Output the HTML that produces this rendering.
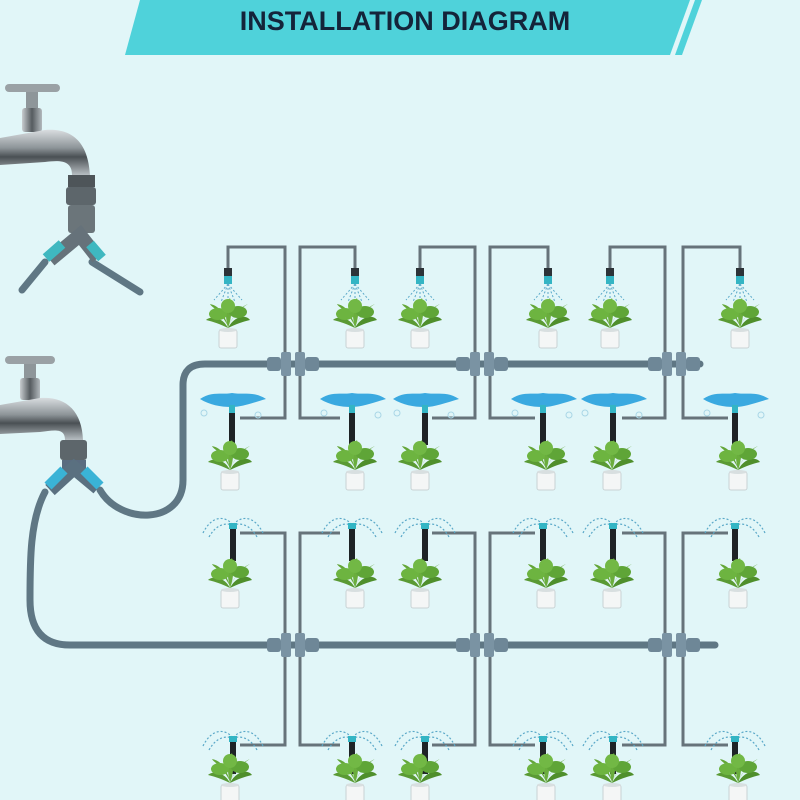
<!DOCTYPE html>
<html><head><style>
body{margin:0;background:#e1f6f8;}
svg{display:block}
</style></head><body>
<svg width="800" height="800" viewBox="0 0 800 800" xmlns="http://www.w3.org/2000/svg">
<defs>
<linearGradient id="chrome" x1="0" y1="0" x2="0" y2="1">
<stop offset="0" stop-color="#d9dde0"/><stop offset="0.4" stop-color="#8d9498"/><stop offset="0.6" stop-color="#4a5054"/><stop offset="1" stop-color="#b7bec2"/>
</linearGradient>
<linearGradient id="chromev" x1="0" y1="0" x2="1" y2="0">
<stop offset="0" stop-color="#c8cdd0"/><stop offset="0.5" stop-color="#555b5f"/><stop offset="1" stop-color="#b2b9bd"/>
</linearGradient>
<g id="plant">
<path d="M0,-2 C-6,-14 -18,-14 -22,-10 C-14,-8 -8,-6 0,-2Z" fill="#5a9a34"/>
<path d="M0,-2 C6,-14 18,-16 22,-10 C14,-8 8,-6 0,-2Z" fill="#4f8f2c"/>
<path d="M0,-2 C-4,-18 -2,-28 2,-32 C4,-24 4,-12 0,-2Z" fill="#6aad3d"/>
<path d="M0,-4 C-10,-22 -16,-22 -18,-26 C-8,-24 -4,-16 0,-4Z" fill="#64a638"/>
<path d="M0,-4 C10,-22 16,-24 20,-26 C10,-20 6,-14 0,-4Z" fill="#5ea236"/>
<ellipse cx="-10" cy="-16" rx="9" ry="6" fill="#6db440"/>
<ellipse cx="10" cy="-18" rx="9" ry="6" fill="#5fa537"/>
<ellipse cx="0" cy="-24" rx="7" ry="7" fill="#72b845"/>
<rect x="-9" y="0" width="18" height="18" rx="2" fill="#f4f6f6" stroke="#c9d2d4"/>
<ellipse cx="0" cy="0" rx="9" ry="2" fill="#d8dfe0"/>
</g>
<g id="spray">
<rect x="-4" y="-12" width="8" height="8" fill="#2c3338"/>
<rect x="-4" y="-4" width="8" height="8" fill="#33b5c4"/>
<path d="M0,4 L-14,20 M0,4 L-7,22 M0,4 L0,22 M0,4 L7,22 M0,4 L14,20" stroke="#5aa8c8" stroke-width="1" stroke-dasharray="2 2" fill="none"/>
</g>
<g id="splash">
<path d="M-32,-6 C-20,-14 -10,-10 0,-12 C12,-10 22,-14 34,-6 C20,-2 10,2 0,2 C-12,2 -22,0 -32,-6Z" fill="#3aa9e0"/>
<circle cx="-28" cy="8" r="3" fill="none" stroke="#a9d6e6"/>
<circle cx="26" cy="10" r="3" fill="none" stroke="#a9d6e6"/>
<rect x="-3" y="0" width="6" height="8" fill="#33b5c4"/>
<rect x="-3" y="8" width="6" height="32" fill="#1e2326"/>
</g>
<g id="fan">
<path d="M-30,6 C-20,-14 -6,-10 0,-2 M30,6 C20,-14 6,-10 0,-2 M-24,10 C-16,-4 -6,-4 0,-2 M24,10 C16,-4 6,-4 0,-2" stroke="#5aa8c8" stroke-width="1.2" stroke-dasharray="2 2" fill="none"/>
<rect x="-4" y="-4" width="8" height="6" fill="#33b5c4"/>
<rect x="-3" y="2" width="6" height="32" fill="#1e2326"/>
</g>
<g id="conn">
<rect x="-26" y="-7" width="14" height="14" rx="3" fill="#6e8797"/>
<rect x="-12" y="-12" width="10" height="24" rx="2" fill="#7a93a3"/>
<rect x="2" y="-12" width="10" height="24" rx="2" fill="#7a93a3"/>
<rect x="12" y="-7" width="14" height="14" rx="3" fill="#6e8797"/>
</g>
</defs>
<polygon points="140,0 690,0 670,55 125,55" fill="#4fd2da"/>
<polygon points="695,0 702,0 682,55 675,55" fill="#4fd2da"/>
<text x="405" y="30" text-anchor="middle" font-family="Liberation Sans, sans-serif" font-weight="bold" font-size="27" fill="#14243a">INSTALLATION DIAGRAM</text>

<!-- hoses -->
<g fill="none" stroke="#5f7784" stroke-width="7" stroke-linecap="round">
<path d="M45,262 L22,290"/>
<path d="M92,262 L140,292"/>
<path d="M100,490 C120,525 183,525 183,480 L183,385 Q183,364 205,364 L700,364"/>
<path d="M45,492 C30,520 30,560 30,600 Q30,645 70,645 L715,645"/>
</g>
<!-- tap 1 -->
<g>
<rect x="5" y="84" width="55" height="8" rx="4" fill="#9aa1a5"/>
<rect x="26" y="92" width="12" height="18" fill="#8e969a"/>
<rect x="22" y="108" width="20" height="24" rx="3" fill="url(#chromev)"/>
<path d="M0,138 L45,130 C70,128 88,140 90,175 L72,175 C72,160 60,160 45,162 L0,165Z" fill="url(#chrome)"/>
<rect x="68" y="175" width="27" height="12" fill="#4e5559"/>
<rect x="66" y="187" width="30" height="18" rx="3" fill="#5d666b"/>
<rect x="68" y="205" width="27" height="28" rx="3" fill="#6b757a"/>
<path d="M50,260 L80,235 L98,258" stroke="#66727a" stroke-width="14" fill="none"/>
<path d="M46,258 L62,244" stroke="#3fb8c0" stroke-width="10"/>
<path d="M90,244 L102,258" stroke="#3fb8c0" stroke-width="10"/>
</g>
<!-- tap 2 -->
<g>
<rect x="5" y="356" width="50" height="8" rx="4" fill="#9aa1a5"/>
<rect x="24" y="364" width="12" height="16" fill="#8e969a"/>
<rect x="20" y="378" width="20" height="22" rx="3" fill="url(#chromev)"/>
<path d="M0,405 L40,398 C65,396 82,410 83,440 L65,440 C65,428 55,430 40,432 L0,434Z" fill="url(#chrome)"/>
<rect x="60" y="440" width="27" height="20" rx="3" fill="#5d666b"/>
<rect x="62" y="460" width="24" height="14" fill="#5a6c80"/>
<path d="M50,490 L74,468 L98,488" stroke="#5a7080" stroke-width="14" fill="none"/>
<path d="M48,486 L64,470" stroke="#3ab3d6" stroke-width="10"/>
<path d="M84,470 L100,486" stroke="#3ab3d6" stroke-width="10"/>
</g>
<!-- thin loops -->
<g fill="none" stroke="#66737a" stroke-width="3">
<path d="M228,268 V247 H285 V418 H240"/>
<path d="M355,268 V247 H300 V418 H340"/>
<path d="M420,268 V247 H475 V418 H432"/>
<path d="M548,268 V247 H490 V418 H535"/>
<path d="M610,268 V247 H665 V418 H622"/>
<path d="M740,268 V247 H683 V418 H728"/>
<path d="M240,533 H285 V745 H240"/>
<path d="M340,533 H300 V745 H340"/>
<path d="M432,533 H475 V745 H432"/>
<path d="M535,533 H490 V745 H535"/>
<path d="M622,533 H665 V745 H622"/>
<path d="M728,533 H683 V745 H728"/>
</g>
<use href="#conn" x="293" y="364"/><use href="#conn" x="482" y="364"/><use href="#conn" x="674" y="364"/>
<use href="#conn" x="293" y="645"/><use href="#conn" x="482" y="645"/><use href="#conn" x="674" y="645"/>
<g>
<use href="#spray" x="228" y="280"/><use href="#spray" x="355" y="280"/><use href="#spray" x="420" y="280"/>
<use href="#spray" x="548" y="280"/><use href="#spray" x="610" y="280"/><use href="#spray" x="740" y="280"/>
<use href="#plant" x="228" y="330"/><use href="#plant" x="355" y="330"/><use href="#plant" x="420" y="330"/>
<use href="#plant" x="548" y="330"/><use href="#plant" x="610" y="330"/><use href="#plant" x="740" y="330"/>
<use href="#splash" x="232" y="405"/><use href="#splash" x="352" y="405"/><use href="#splash" x="425" y="405"/>
<use href="#splash" x="543" y="405"/><use href="#splash" x="613" y="405"/><use href="#splash" x="735" y="405"/>
<use href="#plant" x="230" y="472"/><use href="#plant" x="355" y="472"/><use href="#plant" x="420" y="472"/>
<use href="#plant" x="546" y="472"/><use href="#plant" x="612" y="472"/><use href="#plant" x="738" y="472"/>
<use href="#fan" x="233" y="527"/><use href="#fan" x="352" y="527"/><use href="#fan" x="425" y="527"/>
<use href="#fan" x="543" y="527"/><use href="#fan" x="613" y="527"/><use href="#fan" x="735" y="527"/>
<use href="#plant" x="230" y="590"/><use href="#plant" x="355" y="590"/><use href="#plant" x="420" y="590"/>
<use href="#plant" x="546" y="590"/><use href="#plant" x="612" y="590"/><use href="#plant" x="738" y="590"/>
<use href="#fan" x="233" y="740"/><use href="#fan" x="352" y="740"/><use href="#fan" x="425" y="740"/>
<use href="#fan" x="543" y="740"/><use href="#fan" x="613" y="740"/><use href="#fan" x="735" y="740"/>
<use href="#plant" x="230" y="785"/><use href="#plant" x="355" y="785"/><use href="#plant" x="420" y="785"/>
<use href="#plant" x="546" y="785"/><use href="#plant" x="612" y="785"/><use href="#plant" x="738" y="785"/>
</g>
</svg>
</body></html>
